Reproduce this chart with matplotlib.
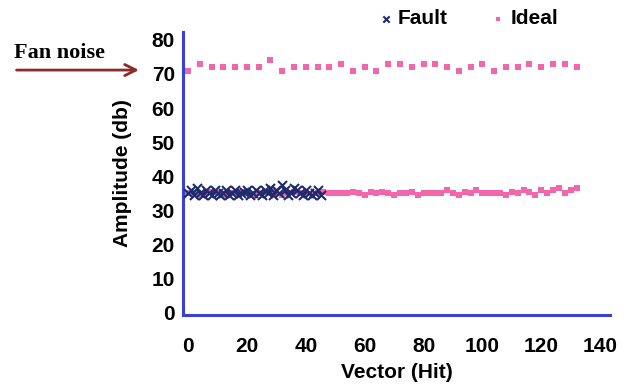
import numpy as np
import matplotlib.pyplot as plt

plt.rcParams['font.family'] = ['Liberation Sans', 'DejaVu Sans']

# ideal, fan noise row (x every 4 hits)
ideal_hi_x = np.arange(0, 133, 4)
ideal_hi_y = [71, 73, 72, 72, 72, 72, 72, 74, 71, 72, 72, 72, 72, 73, 71, 72, 71,
              73, 73, 72, 73, 73, 72, 71, 72, 73, 71, 72, 72, 73, 72, 73, 73, 72]

# ideal, normal row (x every 2 hits)
ideal_lo_x = np.arange(0, 133, 2)
ideal_lo_y = [35, 35, 34.5, 35, 35.5, 35, 34.5, 35, 35, 35.5, 35, 34.5, 35, 35.5, 35, 35,
              34.5, 35, 35.5, 35, 35, 34.5, 35, 35.5, 35, 35, 35, 35, 35.5, 35, 34.5, 35.5,
              35, 35.5, 35, 34.5, 35, 35, 35.5, 34.5, 35, 35, 35, 35, 36, 35, 34.5, 35.5,
              35, 36, 35, 35, 35, 35, 34.5, 35.5, 35, 36, 35.5, 34.5, 36, 35, 36, 36.5,
              35, 36, 36.5]

# fault hits
fault_x = np.arange(0, 46, 1)
fault_y = [35, 36, 34.5, 36.5, 35, 34.5, 36, 35, 34.5, 36, 35, 34.5, 35, 36, 34.5, 35,
           36, 34.5, 35, 35.5, 36, 34.5, 35, 36, 35, 34.5, 36, 35, 36.5, 34.5, 36, 35,
           37.5, 36, 34.5, 35, 36.5, 36, 35, 34.5, 36, 35, 34.5, 35, 36, 34.5]

pink = '#f266ac'
navy = '#1c2a6e'
blue = '#3a3fd6'

fig = plt.figure(figsize=(6.27, 3.85), dpi=100)
ax = fig.add_axes([0.292, 0.182, 0.681, 0.735])

ax.scatter(ideal_hi_x, ideal_hi_y, marker='s', s=15, color=pink, linewidths=0, zorder=2)
ax.scatter(ideal_lo_x, ideal_lo_y, marker='s', s=15, color=pink, linewidths=0, zorder=2)
ax.scatter(fault_x, fault_y, marker='x', s=42, color=navy, linewidths=1.5, zorder=3,
           label='Fault')
ax.scatter([], [], marker='s', s=15, color=pink, linewidths=0, label='Ideal')

ax.set_xlim(-1.7, 143.4)
ax.set_ylim(-0.6, 82.3)
ax.set_xticks(range(0, 141, 20))
ax.set_yticks(range(0, 81, 10))
ax.tick_params(length=0, labelsize=15)
ax.tick_params(axis='y', pad=6)
ax.tick_params(axis='x', pad=16)
for lab in ax.get_xticklabels() + ax.get_yticklabels():
    lab.set_fontweight('bold')

for side in ['top', 'right']:
    ax.spines[side].set_visible(False)
for side in ['left', 'bottom']:
    ax.spines[side].set_color(blue)
    ax.spines[side].set_linewidth(2.2)

ax.set_xlabel('Vector (Hit)', fontsize=15, fontweight='bold', labelpad=5)
ax.set_ylabel('Amplitude (db)', fontsize=15, fontweight='bold', labelpad=14)

fig.legend(loc='center', bbox_to_anchor=(0.746, 0.952), ncol=2, frameon=False,
           prop={'size': 15, 'weight': 'bold'}, handletextpad=0.2, columnspacing=2.0,
           handlelength=0.8, markerscale=0.7)

fig.text(0.022, 0.862, 'Fan noise', family='Liberation Serif', fontsize=16,
         fontweight='bold', va='center')
ax.annotate('', xy=(0.226, 0.818), xycoords='figure fraction',
            xytext=(0.022, 0.818), textcoords='figure fraction',
            arrowprops=dict(arrowstyle='->', color='#8b2c2c', lw=2, mutation_scale=20))

fig.savefig('out.png', dpi=100)
